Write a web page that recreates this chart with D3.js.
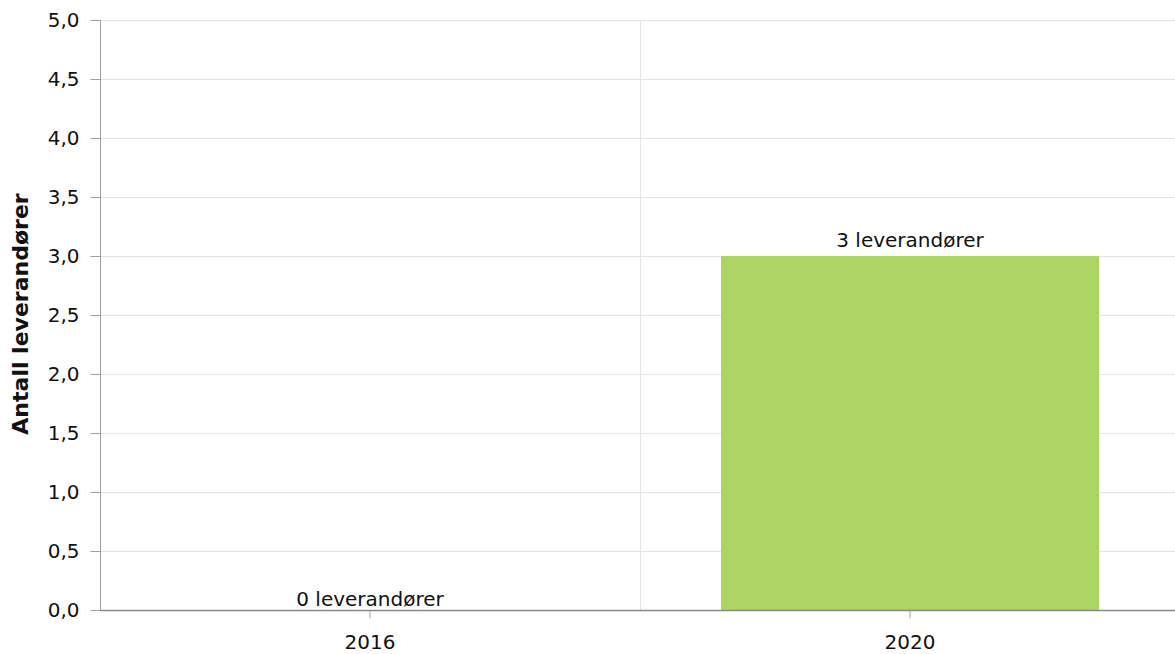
<!DOCTYPE html>
<html><head><meta charset="utf-8">
<script src="https://cdn.jsdelivr.net/npm/d3@7"></script>
<style>body{margin:0;background:#fff}svg{display:block;font-family:"DejaVu Sans",Verdana,sans-serif}</style>
</head><body><svg id="c" width="1175" height="654"></svg>
<script>
const categories = ["2016", "2020"];
const values = [0, 3];
const labels = ["0 leverandører", "3 leverandører"];
const yTicks = [0, 0.5, 1, 1.5, 2, 2.5, 3, 3.5, 4, 4.5, 5];
const yTitle = "Antall leverandører";

const svg = d3.select("#c");
const mLeft = 100, mRight = 1180, mTop = 20, mBottom = 610;
const x = d3.scaleBand().domain(categories).range([mLeft, mRight]).paddingInner(0.3).paddingOuter(0.15);
const y = d3.scaleLinear().domain([0, 5]).range([mBottom, mTop]);
const fmt = d => d.toFixed(1).replace(".", ",");

// horizontal grid
svg.append("g").selectAll("line").data(yTicks).join("line")
  .attr("x1", mLeft).attr("x2", 1175).attr("y1", d => y(d) + 0.5).attr("y2", d => y(d) + 0.5)
  .attr("stroke", "#e3e3e3").attr("stroke-width", 1);
// vertical category boundary grid
const step = x.step();
svg.append("g").selectAll("line").data(categories.slice(1)).join("line")
  .attr("x1", d => x(d) + x.bandwidth() / 2 - step / 2 + 0.5)
  .attr("x2", d => x(d) + x.bandwidth() / 2 - step / 2 + 0.5)
  .attr("y1", mTop).attr("y2", mBottom)
  .attr("stroke", "#e3e3e3");

// bars
svg.append("g").selectAll("rect").data(categories).join("rect")
  .attr("x", d => x(d)).attr("width", x.bandwidth())
  .attr("y", (d, i) => y(values[i])).attr("height", (d, i) => y(0) - y(values[i]))
  .attr("fill", "#add563");

// y axis
const ya = svg.append("g").attr("transform", `translate(${mLeft + 0.5},0)`)
  .call(d3.axisLeft(y).tickValues(yTicks).tickFormat(fmt).tickSize(10).tickPadding(11));
ya.select(".domain").attr("stroke", "#a0a0a0").attr("d", `M0,${mTop}V${mBottom}`);
ya.selectAll(".tick line").attr("stroke", "#a0a0a0");
ya.selectAll(".tick text").attr("font-size", 20).attr("fill", "#111").attr("font-family", "DejaVu Sans");

// x axis
const xa = svg.append("g").attr("transform", `translate(0,${mBottom + 0.5})`)
  .call(d3.axisBottom(x).tickSize(8).tickPadding(16));
xa.select(".domain").attr("stroke", "#888").attr("stroke-width", 1.5).attr("d", `M${mLeft},0H1175`);
xa.selectAll(".tick line").attr("stroke", "#a0a0a0");
xa.selectAll(".tick text").attr("font-size", 20).attr("fill", "#111").attr("font-family", "DejaVu Sans");

// data labels
svg.append("g").selectAll("text").data(categories).join("text")
  .attr("x", d => x(d) + x.bandwidth() / 2)
  .attr("y", (d, i) => y(values[i]) - (values[i] === 0 ? 4 : 9))
  .attr("text-anchor", "middle").attr("font-size", 20).attr("fill", "#111")
  .text((d, i) => labels[i]);

// y title
svg.append("text").attr("transform", `translate(28,314) rotate(-90)`)
  .attr("text-anchor", "middle").attr("font-size", 22).attr("font-weight", "bold").attr("fill", "#111")
  .text(yTitle);
</script></body></html>
